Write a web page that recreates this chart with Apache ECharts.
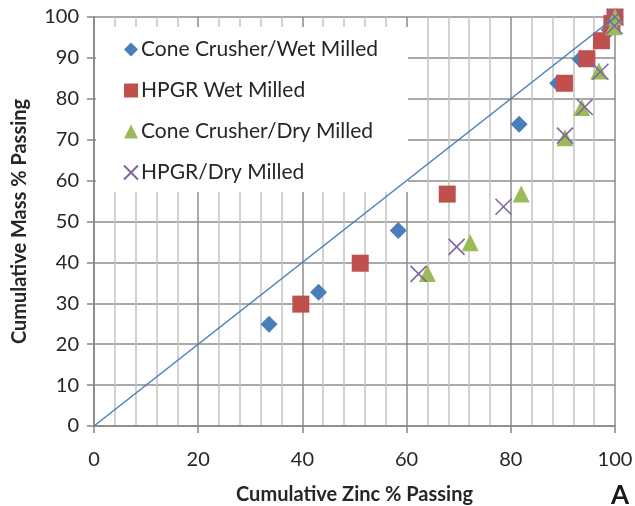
<!DOCTYPE html>
<html lang="en">
<head>
    <meta charset="UTF-8">
    <title>zinc passing</title>
    <style>
        body { margin: 0; background: #fff; }
    </style>
</head>
<body>
    <div id="container" style="width:635px;height:506px"></div>
    <script src="https://cdn.jsdelivr.net/npm/echarts@6/dist/echarts.min.js"></script>
    <script>
        // series names as in legend
        var seriesNames = ['Cone Crusher/Wet Milled', 'HPGR Wet Milled', 'Cone Crusher/Dry Milled', 'HPGR/Dry Milled'];

        // [zinc % passing, mass % passing]
        var coneWet = [[33.6, 24.9], [43.1, 32.7], [58.4, 47.8], [81.6, 73.8], [89.0, 83.8], [93.3, 89.7], [98.9, 96.8], [100, 100]];
        var hpgrWet = [[39.7, 29.8], [51.1, 39.8], [67.8, 56.7], [90.3, 83.8], [94.6, 89.8], [97.4, 94.2], [99.4, 98.4], [100, 100]];
        var coneDry = [[64.0, 37.3], [72.2, 44.8], [82.0, 56.7], [90.4, 70.5], [93.6, 77.9], [96.9, 86.8], [99.7, 97.6], [100, 100]];
        var hpgrDry = [[62.3, 37.2], [69.6, 43.8], [78.6, 53.6], [90.4, 71.0], [94.2, 78.0], [97.2, 86.6], [99.9, 97.8], [100, 100]];
        var parity = [[0, 0], [100, 100]];

        var xTicks = [0, 20, 40, 60, 80, 100];
        var yTicks = [0, 10, 20, 30, 40, 50, 60, 70, 80, 90, 100];

        var fontName = 'Lato';
        var crossPath = 'path://M0,0L10,10M10,0L0,10';

        paint();

        function paint() {
            var myChart = echarts.init(document.getElementById('container'));
            var option = {
                backgroundColor: '#fff',
                animation: false,
                textStyle: { fontFamily: fontName },
                title: {
                    text: 'A',
                    left: 606,
                    top: 478,
                    textStyle: { fontFamily: fontName, fontSize: 26, fontWeight: 'bold', color: '#1a1a1a' }
                },
                legend: {
                    data: seriesNames,
                    orient: 'vertical',
                    left: 96,
                    top: 27,
                    padding: [12, 30, 9, 27],
                    itemGap: 20,
                    itemWidth: 14,
                    itemHeight: 14,
                    backgroundColor: '#fff',
                    selectedMode: false,
                    textStyle: { fontFamily: fontName, fontSize: 21, color: '#262626', padding: [0, 0, 0, -2] }
                },
                grid: { left: 94, right: 20, top: 17, bottom: 80, outerBoundsMode: 'none', containLabel: false },
                xAxis: {
                    type: 'value',
                    min: 0, max: 100, interval: 20,
                    name: 'Cumulative Zinc % Passing',
                    nameLocation: 'middle',
                    nameGap: 59,
                    nameTextStyle: { fontFamily: fontName, fontSize: 20, fontWeight: 'bold', color: '#262626' },
                    axisLine: { lineStyle: { color: '#868686', width: 1.5 } },
                    axisTick: { show: true, length: 7, lineStyle: { color: '#868686', width: 1.5 } },
                    axisLabel: {
                        margin: 24, fontSize: 20, color: '#262626',
                        formatter: function (v) { return xTicks.indexOf(v) >= 0 ? String(v) : ''; }
                    },
                    splitLine: { show: true, lineStyle: { color: '#8c8c8c', width: 1.5 } },
                    minorTick: { show: false, splitNumber: 5 },
                    minorSplitLine: { show: true, lineStyle: { color: '#c4c4c4', width: 1.5 } }
                },
                yAxis: {
                    type: 'value',
                    min: 0, max: 100, interval: 10,
                    name: 'Cumulative Mass % Passing',
                    nameLocation: 'middle',
                    nameGap: 64,
                    nameTextStyle: { fontFamily: fontName, fontSize: 20, fontWeight: 'bold', color: '#262626' },
                    axisLine: { show: true, lineStyle: { color: '#868686', width: 1.5 } },
                    axisTick: { show: true, length: 7, lineStyle: { color: '#868686', width: 1.5 } },
                    axisLabel: {
                        margin: 15, fontSize: 20, color: '#262626',
                        formatter: function (v) { return yTicks.indexOf(v) >= 0 ? String(v) : ''; }
                    },
                    splitLine: { show: true, lineStyle: { color: '#8c8c8c', width: 1.5 } }
                },
                series: [
                    {
                        name: seriesNames[0], type: 'scatter', data: coneWet,
                        symbol: 'diamond', symbolSize: 17,
                        itemStyle: { color: '#4A7EBB', opacity: 1 }, z: 2
                    },
                    {
                        name: seriesNames[1], type: 'scatter', data: hpgrWet,
                        symbol: 'rect', symbolSize: 17,
                        itemStyle: { color: '#C0504D', opacity: 1 }, z: 3
                    },
                    {
                        name: seriesNames[2], type: 'scatter', data: coneDry,
                        symbol: 'triangle', symbolSize: 17,
                        itemStyle: { color: '#9BBB59', opacity: 1 }, z: 4
                    },
                    {
                        name: seriesNames[3], type: 'scatter', data: hpgrDry,
                        symbol: crossPath, symbolSize: 16,
                        itemStyle: { color: 'rgba(0,0,0,0)', borderColor: '#8064A2', borderWidth: 1.6, opacity: 1 },
                        z: 5
                    },
                    {
                        name: 'parity', type: 'line', data: parity,
                        showSymbol: false, symbol: 'none',
                        lineStyle: { color: '#4A7EBB', width: 1.5 },
                        z: 10
                    }
                ]
            };
            myChart.setOption(option);
        }
    </script>
</body>
</html>
